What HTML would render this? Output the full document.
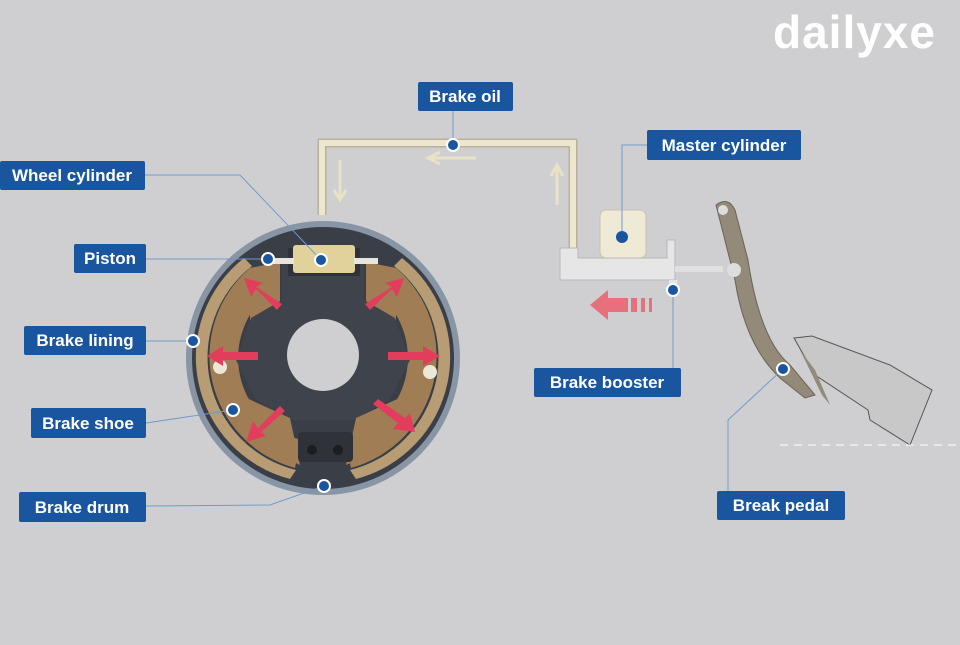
<!DOCTYPE html>
<html><head><meta charset="utf-8"><style>
body{margin:0;width:960px;height:640px;overflow:hidden;background:#cfcfd1;font-family:"Liberation Sans",sans-serif}
</style></head><body>
<svg width="960" height="640" viewBox="0 0 960 640" xmlns="http://www.w3.org/2000/svg">
<rect width="960" height="640" fill="#cfcfd1"/>
<text x="773" y="48" font-size="46" font-weight="bold" fill="#fff" letter-spacing="1" font-family="Liberation Sans,sans-serif">dailyxe</text>
<!-- pipe -->
<path d="M322 215 V143 H573 V250" fill="none" stroke="#b9b29a" stroke-width="9"/>
<path d="M322 215 V143 H573 V250" fill="none" stroke="#ede7cf" stroke-width="6"/>
<path d="M340 160 V198 M334 190 L340 200 L346 190" stroke="#e8e2c6" stroke-width="3" fill="none"/>
<path d="M557 205 V168 M551 176 L557 165 L563 176" stroke="#e8e2c6" stroke-width="3" fill="none"/>
<path d="M476 158 H432 M440 152 L428 158 L440 164" stroke="#e8e2c6" stroke-width="3" fill="none"/>
<!-- drum -->
<circle cx="323" cy="358" r="137" fill="#8795a4"/>
<circle cx="323" cy="358" r="131" fill="#3a3e46"/>
<!-- linings -->
<path d="M244 258 A126 126 0 0 0 290 479 L296 470 A116 116 0 0 1 252 266 Z" fill="#b79c74"/>
<path d="M402 258 A126 126 0 0 1 356 479 L350 470 A116 116 0 0 0 394 266 Z" fill="#b79c74"/>
<!-- shoes -->
<path d="M250 268 A116 116 0 0 0 295 468 L301 440 A85 85 0 0 1 269.5 292 Z" fill="#a07d55"/>
<path d="M396 268 A116 116 0 0 1 351 468 L345 440 A85 85 0 0 0 376.5 292 Z" fill="#a07d55"/>
<path d="M250 268 L280 262 L280 305 L250 330 Z" fill="#a07d55"/>
<path d="M396 268 L366 262 L366 305 L396 330 Z" fill="#a07d55"/>
<path d="M240 395 L290 418 L300 465 L255 445 Z" fill="#a07d55"/>
<path d="M406 395 L356 418 L346 465 L391 445 Z" fill="#a07d55"/>
<path d="M282 262 H364 V300 L395 318 L410 360 L390 400 L352 420 H294 L256 400 L236 360 L251 318 L282 300 Z" fill="#3e434c"/>
<rect x="298" y="432" width="55" height="30" rx="4" fill="#2f3238"/>
<circle cx="312" cy="450" r="5" fill="#1c1d20"/><circle cx="338" cy="450" r="5" fill="#1c1d20"/>
<circle cx="323" cy="355" r="36" fill="#cfcfd1"/>
<circle cx="220" cy="367" r="7" fill="#ece7d6"/><circle cx="430" cy="372" r="7" fill="#ece7d6"/>
<rect x="288" y="248" width="72" height="28" fill="#2f3238"/>
<rect x="293" y="245" width="62" height="28" rx="3" fill="#e0d29a"/>
<rect x="272" y="258" width="22" height="6" fill="#e8e6dc"/><rect x="354" y="258" width="24" height="6" fill="#e8e6dc"/>
<g fill="#e23d5c">
<path d="M277 310 L256 289 L251 297 L244 278 L263 283 L256 287 L282 304 Z"/>
<path d="M370 310 L392 289 L397 297 L404 278 L385 283 L392 287 L365 304 Z"/>
<path d="M258 352 H223 V346 L207 356 L223 366 V360 H258 Z"/>
<path d="M388 352 H423 V346 L440 356 L423 366 V360 H388 Z"/>
<path d="M280 406 L258 428 L253 421 L246 442 L266 436 L261 432 L285 411 Z"/>
<path d="M373 404 L398 423 L393 429 L415 432 L410 413 L405 418 L378 399 Z"/>
<path d="M590 305 L608 290 V298 H628 V312 H608 V320 Z" fill="#e8707c"/>
<rect x="631" y="298" width="6" height="14" fill="#e8707c"/><rect x="641" y="298" width="4" height="14" fill="#e8707c"/><rect x="649" y="298" width="3" height="14" fill="#e8707c"/>
</g>
<!-- master cylinder -->
<rect x="600" y="210" width="46" height="48" rx="6" fill="#efead6" stroke="#c9c3ad"/>
<path d="M560 248 H578 V258 H667 V240 H675 V280 H560 Z" fill="#e6e6e6" stroke="#b8b8b8"/>
<rect x="675" y="266" width="48" height="6" fill="#e0e0e0"/>
<rect x="669" y="280" width="8" height="12" fill="#e6e6e6"/>
<!-- pedal -->
<path d="M716 205 Q728 196 735 210 L748 260 Q760 340 790 365 L815 395 L805 398 L780 378 Q745 345 735 280 Z" fill="#938a7a" stroke="#6a6358"/>
<circle cx="723" cy="210" r="5" fill="#ddd"/><circle cx="734" cy="270" r="7" fill="#ddd"/>
<path d="M794 338 L812 336 Q850 350 890 365 L932 390 L910 445 L870 420 L868 410 L815 375 Z" fill="#c8c8c8" stroke="#555"/>
<path d="M800 350 L822 395 L830 405 L815 370 Z" fill="#938a7a"/>
<line x1="780" y1="445" x2="960" y2="445" stroke="#fff" stroke-dasharray="8 6" stroke-width="1"/>
<!-- leader lines -->
<g stroke="#6f9bd0" stroke-width="1" fill="none">
<path d="M145 175 H240 L321 260"/>
<path d="M146 259 H268"/>
<path d="M146 341 H193"/>
<path d="M146 423 L233 410"/>
<path d="M146 506 L270 505 L324 486"/>
<path d="M453 111 V145"/>
<path d="M647 145 H622 V237"/>
<path d="M673 290 V368"/>
<path d="M728 491 V420 L783 369"/>
</g>
<g fill="#1a56a0" stroke="#fff" stroke-width="2">
<circle cx="453" cy="145" r="6"/><circle cx="321" cy="260" r="6"/><circle cx="268" cy="259" r="6"/>
<circle cx="193" cy="341" r="6"/><circle cx="233" cy="410" r="6"/><circle cx="324" cy="486" r="6"/>
<circle cx="622" cy="237" r="6" stroke="none"/><circle cx="673" cy="290" r="6"/><circle cx="783" cy="369" r="6"/>
</g>
<g fill="#1a56a0">
<rect x="418" y="82" width="95" height="29" rx="2"/>
<rect x="0" y="161" width="145" height="29" rx="2"/>
<rect x="647" y="130" width="154" height="30" rx="2"/>
<rect x="74" y="244" width="72" height="29" rx="2"/>
<rect x="24" y="326" width="122" height="29" rx="2"/>
<rect x="31" y="408" width="115" height="30" rx="2"/>
<rect x="534" y="368" width="147" height="29" rx="2"/>
<rect x="19" y="492" width="127" height="30" rx="2"/>
<rect x="717" y="491" width="128" height="29" rx="2"/>
</g>
<g fill="#fff" font-size="17" font-weight="bold" text-anchor="middle" font-family="Liberation Sans,sans-serif">
<text x="465" y="102">Brake oil</text>
<text x="72" y="181">Wheel cylinder</text>
<text x="724" y="151">Master cylinder</text>
<text x="110" y="264">Piston</text>
<text x="85" y="346">Brake lining</text>
<text x="88" y="429">Brake shoe</text>
<text x="607" y="388">Brake booster</text>
<text x="82" y="513">Brake drum</text>
<text x="781" y="511">Break pedal</text>
</g>
</svg>
</body></html>
